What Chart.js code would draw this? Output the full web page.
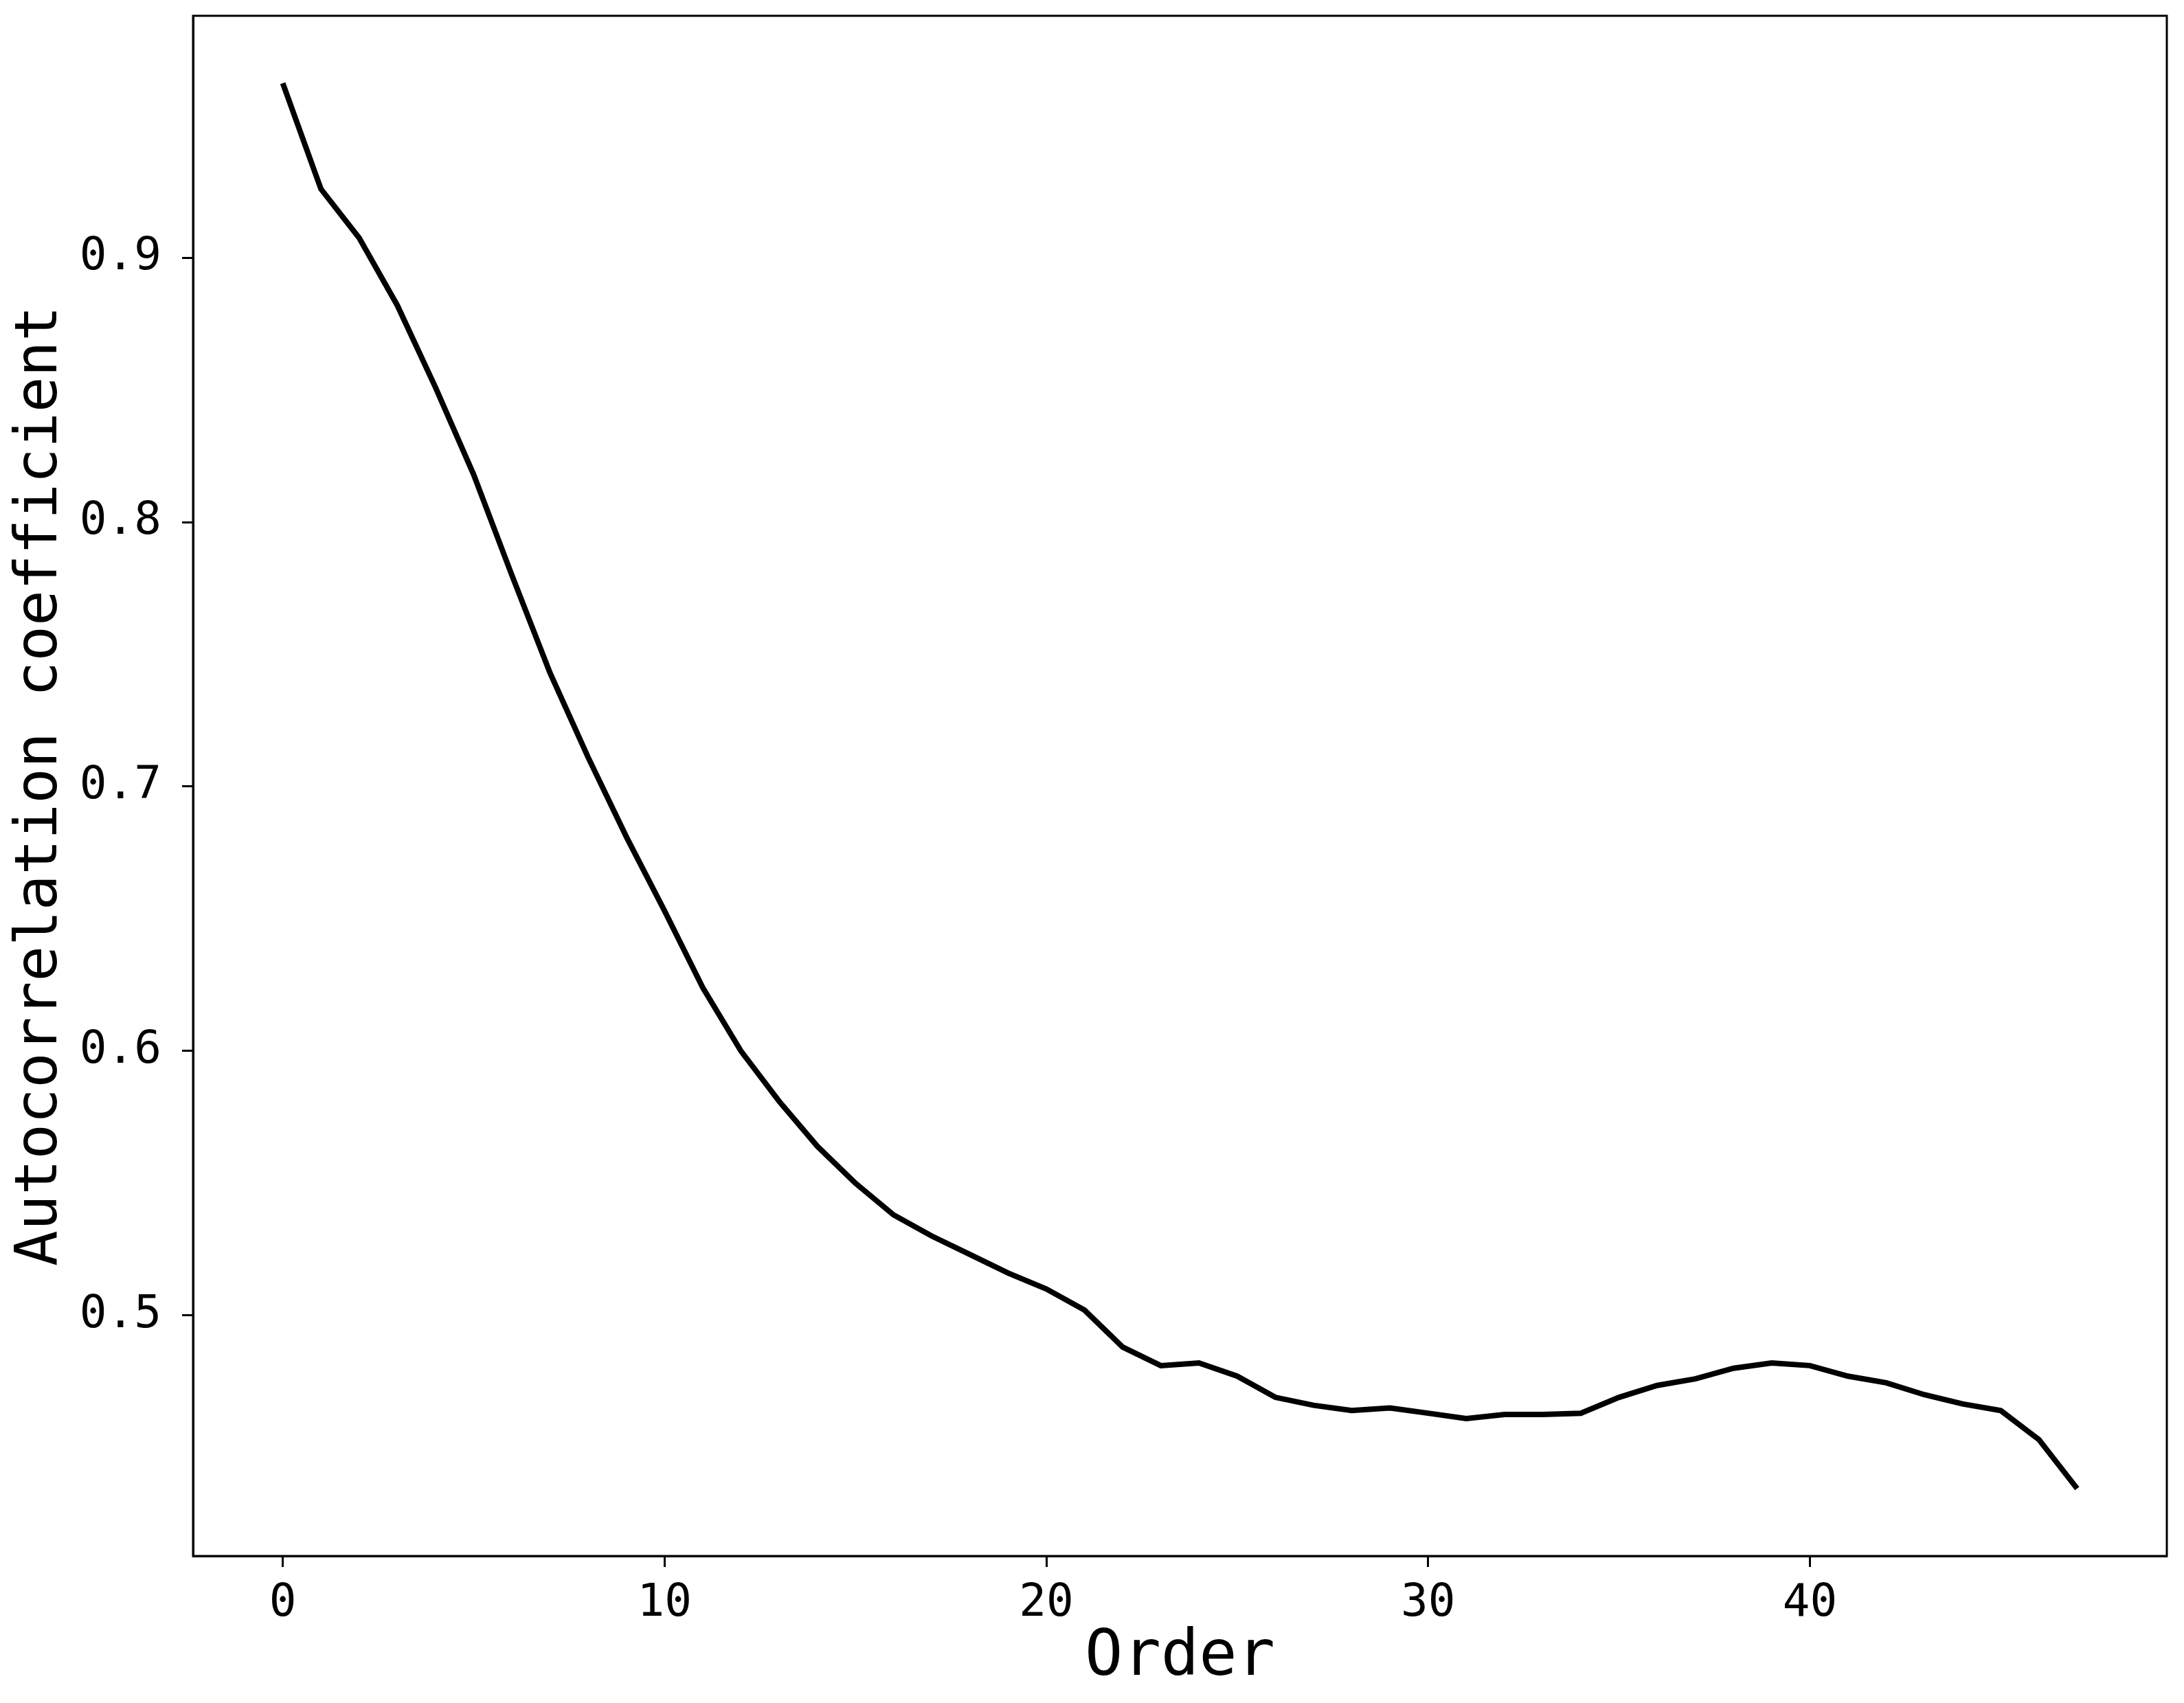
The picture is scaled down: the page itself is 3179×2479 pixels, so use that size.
<!DOCTYPE html>
<html>
<head>
<meta charset="utf-8">
<script src="https://cdn.jsdelivr.net/npm/chart.js@4/dist/chart.umd.min.js"></script>
<style>
  html, body { margin: 0; padding: 0; background: #ffffff; }
  #wrap { width: 3179px; height: 2479px; }
</style>
</head>
<body>
<div id="wrap"><canvas id="c" width="3179" height="2479"></canvas></div>
<script>
const orders = [0,1,2,3,4,5,6,7,8,9,10,11,12,13,14,15,16,17,18,19,20,21,22,23,24,25,26,27,28,29,30,31,32,33,34,35,36,37,38,39,40,41,42,43,44,45,46,47];
const autocorr = [0.966,0.926,0.9075,0.882,0.851,0.818,0.780,0.743,0.711,0.681,0.653,0.624,0.600,0.581,0.564,0.550,0.538,0.530,0.523,0.516,0.510,0.502,0.488,0.481,0.482,0.477,0.469,0.466,0.464,0.465,0.463,0.461,0.4625,0.4625,0.463,0.469,0.4735,0.476,0.480,0.482,0.481,0.477,0.4745,0.470,0.4665,0.464,0.453,0.4345];
const xTicks = [0,10,20,30,40];
const yTicks = [0.5,0.6,0.7,0.8,0.9];
const xTitle = 'Order';
const yTitle = 'Autocorrelation coefficient';

const FONT = "'DejaVu Sans Mono', 'Liberation Mono', monospace";

const framePlugin = {
  id: 'frame',
  afterDraw(chart) {
    const a = chart.chartArea;
    const ctx = chart.ctx;
    ctx.save();
    ctx.strokeStyle = '#000000';
    ctx.lineWidth = 3;
    ctx.strokeRect(a.left, a.top, a.right - a.left, a.bottom - a.top);
    ctx.restore();
  }
};

function zeroPad(s) { s.paddingTop = 0; s.paddingBottom = 0; s.paddingLeft = 0; s.paddingRight = 0; }

new Chart(document.getElementById('c'), {
  type: 'line',
  data: {
    datasets: [{
      data: orders.map((o, i) => ({x: o, y: autocorr[i]})),
      borderColor: '#000000',
      borderWidth: 8,
      pointRadius: 0,
      tension: 0,
      fill: false
    }]
  },
  options: {
    responsive: false,
    animation: false,
    devicePixelRatio: 1,
    layout: { padding: { top: 23, right: 25, left: 0, bottom: 0 } },
    plugins: { legend: { display: false }, tooltip: { enabled: false } },
    scales: {
      x: {
        type: 'linear',
        min: -2.35,
        max: 49.35,
        afterBuildTicks: (s) => { s.ticks = xTicks.map(v => ({value: v})); },
        afterFit: (s) => { s.height = 214; zeroPad(s); },
        grid: { drawOnChartArea: false, drawTicks: true, tickLength: 16, tickWidth: 3, tickColor: '#000000' },
        border: { display: true, color: '#000000', width: 3 },
        ticks: { color: '#000000', padding: 14, maxRotation: 0, font: { family: FONT, size: 66 }, callback: (v) => String(v) },
        title: { display: true, text: xTitle, color: '#000000', font: { family: FONT, size: 92 }, padding: { top: 0, bottom: 10 } }
      },
      y: {
        type: 'linear',
        min: 0.409,
        max: 0.9915,
        afterBuildTicks: (s) => { s.ticks = yTicks.map(v => ({value: v})); },
        afterFit: (s) => { s.width = 281; zeroPad(s); },
        grid: { drawOnChartArea: false, drawTicks: true, tickLength: 16, tickWidth: 3, tickColor: '#000000' },
        border: { display: true, color: '#000000', width: 3 },
        ticks: { color: '#000000', padding: 30, font: { family: FONT, size: 66 }, callback: (v) => v.toFixed(1) },
        title: { display: true, text: yTitle, color: '#000000', font: { family: FONT, size: 86 }, padding: { top: 8, bottom: 0 } }
      }
    }
  },
  plugins: [framePlugin]
});
</script>
</body>
</html>
